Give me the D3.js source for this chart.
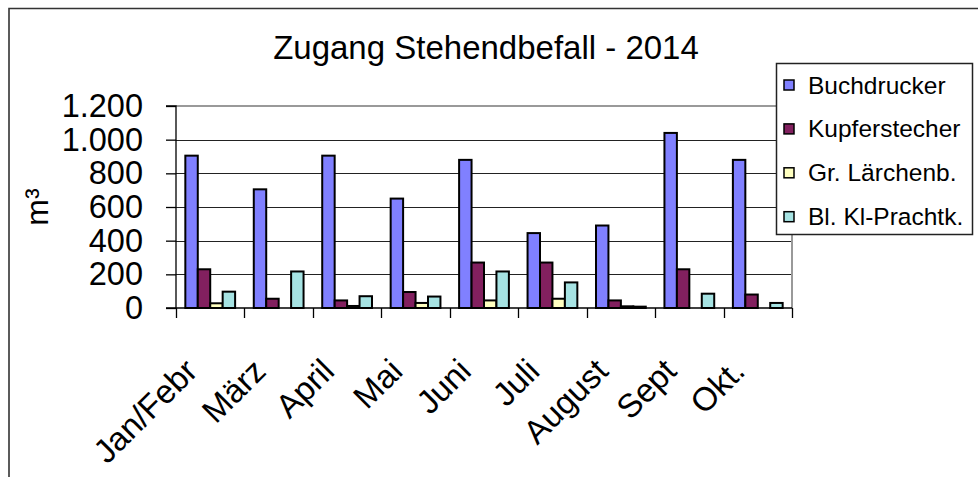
<!DOCTYPE html>
<html>
<head>
<meta charset="utf-8">
<script src="https://cdn.jsdelivr.net/npm/d3@7"></script>
<style>
  html, body { margin: 0; padding: 0; background: #fff; }
  svg { display: block; font-family: "Liberation Sans", Arial, sans-serif; }
</style>
</head>
<body>
<svg id="chart" width="978" height="477"></svg>
<script>
const title = "Zugang Stehendbefall - 2014";
const yAxisTitle = "m³";
const categories = ["Jan/Febr", "März", "April", "Mai", "Juni", "Juli", "August", "Sept", "Okt."];
const seriesNames = ["Buchdrucker", "Kupferstecher", "Gr. Lärchenb.", "Bl. Kl-Prachtk."];
const buchdrucker   = [905, 705, 905, 650, 880, 445, 490, 1040, 880];
const kupferstecher = [230, 55, 45, 95, 270, 270, 45, 230, 80];
const laerchenb     = [28, 0, 12, 30, 45, 55, 10, 0, 0];
const prachtk       = [97, 217, 70, 68, 217, 152, 8, 85, 30];
const seriesColors  = ["#8080FF", "#82205F", "#FFFFC0", "#A6E3E3"];
const yTicks = [0, 200, 400, 600, 800, 1000, 1200];
const yTickLabels = ["0", "200", "400", "600", "800", "1.000", "1.200"];

const seriesValues = [buchdrucker, kupferstecher, laerchenb, prachtk];

const svg = d3.select("#chart");
const W = 978, H = 477;
const plot = { left: 176, right: 792, top: 106, bottom: 308 };

// outer chart frame (left and top edges visible)
svg.append("path")
  .attr("d", `M9,${H} L9,8.5 L${W},8.5`)
  .attr("fill", "none").attr("stroke", "#333").attr("stroke-width", 1.6);

const x0 = d3.scaleBand().domain(categories).range([plot.left, plot.right]).padding(0);
const gapHalf = x0.bandwidth() * 0.75 / 5.5;
const x1 = d3.scaleBand().domain(seriesNames).range([gapHalf, x0.bandwidth() - gapHalf]).padding(0);
const y = d3.scaleLinear().domain([0, 1200]).range([plot.bottom, plot.top]);

// gridlines
svg.append("g").selectAll("line").data(yTicks.filter(t => t > 0 && t < 1200)).join("line")
  .attr("x1", plot.left).attr("x2", plot.right)
  .attr("y1", d => Math.round(y(d)) + 0.5).attr("y2", d => Math.round(y(d)) + 0.5)
  .attr("stroke", "#222").attr("stroke-width", 1.2);

// plot area border (top & right)
svg.append("path")
  .attr("d", `M${plot.left},${y(1200)} L${plot.right},${y(1200)} L${plot.right},${plot.bottom}`)
  .attr("fill", "none").attr("stroke", "#999").attr("stroke-width", 2);

// bars
const groups = svg.append("g").selectAll("g").data(categories).join("g")
  .attr("transform", d => `translate(${x0(d)},0)`);
groups.selectAll("rect")
  .data((c, i) => seriesNames.map((s, j) => ({ s, j, v: seriesValues[j][i] })))
  .join("rect")
  .attr("x", d => x1(d.s))
  .attr("width", x1.bandwidth())
  .attr("y", d => y(d.v))
  .attr("height", d => y(0) - y(d.v))
  .attr("fill", d => seriesColors[d.j])
  .attr("stroke", "#000").attr("stroke-width", 2);

// y axis
const yAxis = d3.axisLeft(y).tickValues(yTicks).tickSize(10).tickPadding(23)
  .tickFormat((d, i) => yTickLabels[i]);
const gy = svg.append("g").attr("transform", `translate(${plot.left},0)`).call(yAxis);
gy.select(".domain").attr("stroke", "#000").attr("stroke-width", 1.3).attr("d", `M-10,${y(1200)}H0V${y(0)}H-10`);
gy.selectAll(".tick line").attr("stroke", "#000").attr("stroke-width", 1.3);
gy.selectAll(".tick text").attr("font-size", 32.5).attr("fill", "#000")
  .attr("font-family", "Liberation Sans, Arial, sans-serif");

// x axis
const xAxis = d3.axisBottom(x0).tickSize(0).tickFormat(d => d);
const gx = svg.append("g").attr("transform", `translate(0,${plot.bottom})`).call(xAxis);
gx.select(".domain").attr("stroke", "#000").attr("stroke-width", 1.3).attr("d", `M${plot.left},0H${plot.right}`);
// category boundary ticks
const bounds = categories.map(c => x0(c)).concat([plot.right]);
svg.append("g").selectAll("line").data(bounds).join("line")
  .attr("x1", d => Math.round(d) + 0.5).attr("x2", d => Math.round(d) + 0.5)
  .attr("y1", plot.bottom).attr("y2", plot.bottom + 10)
  .attr("stroke", "#000").attr("stroke-width", 1.3);
gx.selectAll(".tick text")
  .attr("font-size", 33).attr("fill", "#000")
  .attr("font-family", "Liberation Sans, Arial, sans-serif")
  .attr("text-anchor", "end")
  .attr("y", 0).attr("dy", 0)
  .attr("transform", "translate(-11,65) rotate(-45)");

// y axis title
svg.append("text")
  .attr("transform", "translate(48,207) rotate(-90)")
  .attr("text-anchor", "middle")
  .attr("font-size", 32)
  .text(yAxisTitle);

// title
svg.append("text")
  .attr("x", 486).attr("y", 59)
  .attr("text-anchor", "middle")
  .attr("font-size", 33)
  .text(title);

// legend
const legend = svg.append("g");
legend.append("rect")
  .attr("x", 776.5).attr("y", 63.5).attr("width", 196).attr("height", 171)
  .attr("fill", "#fff").attr("stroke", "#222").attr("stroke-width", 1.5);
const rowY = d3.scalePoint().domain(seriesNames).range([85, 216.7]);
const items = legend.selectAll("g.item").data(seriesNames).join("g").attr("class", "item")
  .attr("transform", d => `translate(0,${rowY(d)})`);
items.append("rect")
  .attr("x", 784).attr("y", -5).attr("width", 10).attr("height", 10)
  .attr("fill", (d, i) => seriesColors[i]).attr("stroke", "#000").attr("stroke-width", 1.5);
items.append("text")
  .attr("x", 808).attr("y", 0).attr("dy", "0.35em")
  .attr("font-size", 24.5)
  .text(d => d);
</script>
</body>
</html>
